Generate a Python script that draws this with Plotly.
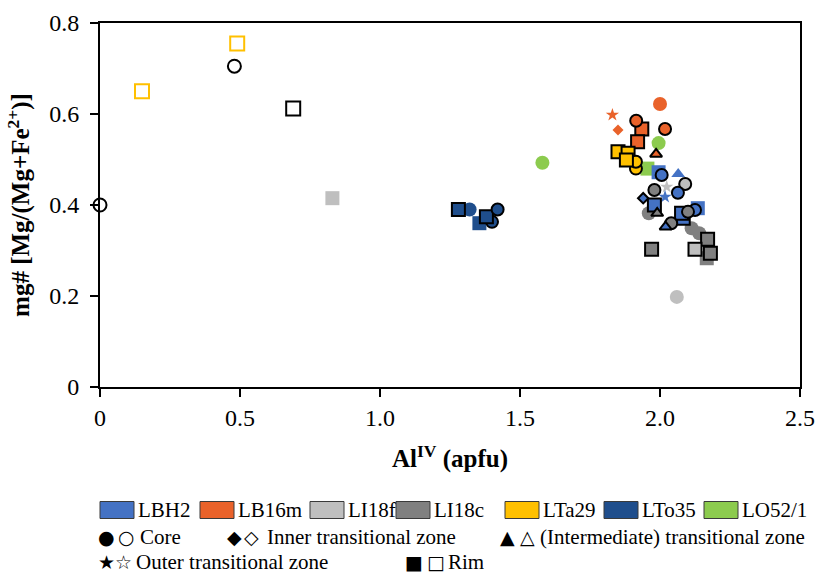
import plotly.graph_objects as go

# ---------------- data ----------------
SAMPLES = ["LBH2", "LB16m", "LI18f", "LI18c", "LTa29", "LTo35", "LO52/1"]
SAMPLE_COLORS = ["#4472C4", "#E9622A", "#BFBFBF", "#808080", "#FFC000", "#1F4E8C", "#8CCB4E"]
OTHER_COLOR = "#000000"   # open black symbols

ZONE_NAMES = ["Core", "Inner transitional zone", "(Intermediate) transitional zone",
              "Outer transitional zone", "Rim"]
ZONE_KEYS = ["core", "inner", "inter", "outer", "rim"]
ZONE_SYMBOLS = ["circle", "diamond", "triangle-up", "star", "square"]

# Al(IV) (apfu)
AL_IV = [0.00, 0.15, 0.49, 0.48, 0.69, 0.83, 1.58,
         1.32, 1.355, 1.28, 1.40, 1.38, 1.42,
         2.00, 1.83, 1.85, 1.995, 1.955, 2.065, 1.995, 2.024, 2.018, 2.135,
         1.96, 2.113, 2.14, 2.167, 2.06,
         1.935, 1.915, 2.018, 1.92, 1.85, 1.886, 1.986, 1.914, 1.914, 1.88,
         2.006, 2.09, 1.98, 2.064, 1.94, 1.98, 1.99, 2.083, 2.125, 2.077, 2.10,
         2.04, 2.02, 2.17, 1.97, 2.125, 2.18]
# mg# [Mg/(Mg+Fe2+)]
MG_NUM = [0.40, 0.65, 0.755, 0.705, 0.612, 0.415, 0.493,
          0.39, 0.36, 0.39, 0.363, 0.374, 0.39,
          0.622, 0.598, 0.565, 0.536, 0.48, 0.468, 0.472, 0.44, 0.418, 0.393,
          0.382, 0.349, 0.338, 0.283, 0.198,
          0.567, 0.585, 0.567, 0.539, 0.517, 0.514, 0.512, 0.48, 0.495, 0.499,
          0.466, 0.446, 0.433, 0.427, 0.415, 0.40, 0.382, 0.371, 0.389, 0.382, 0.385,
          0.36, 0.352, 0.325, 0.303, 0.303, 0.294]
SAMPLE = ["other", "LTa29", "LTa29", "other", "other", "LI18f", "LO52/1",
          "LTo35", "LTo35", "LTo35", "LTo35", "LTo35", "LTo35",
          "LB16m", "LB16m", "LB16m", "LO52/1", "LO52/1", "LBH2", "LBH2", "LI18f", "LBH2", "LBH2",
          "LI18c", "LI18c", "LI18c", "LI18c", "LI18f",
          "LB16m", "LB16m", "LB16m", "LB16m", "LTa29", "LTa29", "LB16m", "LTa29", "LTa29", "LTa29",
          "LBH2", "LI18f", "LI18c", "LBH2", "LBH2", "LBH2", "LI18c", "LBH2", "LBH2", "LBH2", "LI18c",
          "LI18c", "LBH2", "LI18c", "LI18c", "LI18f", "LI18c"]
ZONE = ["core", "rim", "rim", "core", "rim", "rim", "core",
        "core", "rim", "rim", "core", "rim", "core",
        "core", "outer", "inner", "core", "rim", "inter", "rim", "outer", "outer", "rim",
        "core", "core", "core", "rim", "core",
        "rim", "core", "core", "rim", "rim", "rim", "inter", "core", "core", "rim",
        "core", "core", "core", "core", "inner", "rim", "inter", "rim", "core", "rim", "core",
        "core", "inter", "rim", "rim", "rim", "rim"]
# e = filled with black outline, p = filled without outline, o = open symbol
STYLE = ["o", "o", "o", "o", "o", "p", "p",
         "p", "p", "e", "e", "e", "e",
         "p", "p", "p", "p", "p", "p", "p", "p", "p", "p",
         "p", "p", "p", "p", "p",
         "e", "e", "e", "e", "e", "e", "e", "e", "e", "e",
         "e", "e", "e", "e", "e", "e", "e", "e", "e", "e", "e",
         "e", "e", "e", "e", "e", "e"]

# ---------------- styling ----------------
FONT = "Times New Roman, Liberation Serif, Tinos, DejaVu Serif, serif"
color_of = dict(zip(SAMPLES, SAMPLE_COLORS))
color_of["other"] = OTHER_COLOR
symbol_of = dict(zip(ZONE_KEYS, ZONE_SYMBOLS))
PLAIN_SIZE = {"circle": 14, "square": 14, "diamond": 8.5, "triangle-up": 12, "star": 10}
EDGE_SIZE = {"circle": 12, "square": 13, "diamond": 8, "triangle-up": 10.5, "star": 9}

fill, line_col, line_w, sizes, symbols = [], [], [], [], []
for s, z, st in zip(SAMPLE, ZONE, STYLE):
    sym = symbol_of[z]
    c = color_of[s]
    symbols.append(sym)
    if st == "p":
        fill.append(c); line_col.append(c); line_w.append(0); sizes.append(PLAIN_SIZE[sym])
    elif st == "e":
        fill.append(c); line_col.append("#000000"); line_w.append(2); sizes.append(EDGE_SIZE[sym])
    else:
        fill.append("#FFFFFF"); line_col.append(c); line_w.append(2); sizes.append(EDGE_SIZE[sym] + 1)

fig = go.Figure()
fig.add_trace(go.Scatter(
    x=AL_IV, y=MG_NUM, mode="markers", cliponaxis=False, showlegend=False,
    marker=dict(symbol=symbols, size=sizes, color=fill, opacity=1,
                line=dict(color=line_col, width=line_w)),
))

X_TICKS = [0, 0.5, 1.0, 1.5, 2.0, 2.5]
X_TICKTEXT = ["0", "0.5", "1.0", "1.5", "2.0", "2.5"]
Y_TICKS = [0, 0.2, 0.4, 0.6, 0.8]
Y_TICKTEXT = ["0", "0.2", "0.4", "0.6", "0.8"]

L, R, T, B = 100, 21, 23, 187
W, H = 821, 574
PW, PH = W - L - R, H - T - B
TICK_SIZE = 24
TITLE_SIZE = 25

fig.update_layout(
    width=W, height=H, margin=dict(l=L, r=R, t=T, b=B, autoexpand=False),
    paper_bgcolor="white", plot_bgcolor="white",
    font=dict(family=FONT, color="#000000", size=21),
    xaxis=dict(range=[0, 2.5], tickvals=X_TICKS, ticktext=X_TICKTEXT,
               tickfont=dict(family=FONT, size=TICK_SIZE),
               showline=True, linecolor="#000000", linewidth=2, mirror=True,
               ticks="outside", ticklen=8, tickwidth=2, tickcolor="#000000",
               showgrid=False, zeroline=False, automargin=False,
               title=dict(text="<b>Al<sup>IV</sup> (apfu)</b>",
                          font=dict(size=TITLE_SIZE, family=FONT), standoff=20)),
    yaxis=dict(range=[0, 0.8], tickvals=Y_TICKS, ticktext=Y_TICKTEXT,
               tickfont=dict(family=FONT, size=TICK_SIZE), ticklabelstandoff=6,
               showline=True, linecolor="#000000", linewidth=2, mirror=True,
               ticks="outside", ticklen=8, tickwidth=2, tickcolor="#000000",
               showgrid=False, zeroline=False, automargin=False,
               title=dict(text="<b>mg# [Mg/(Mg+Fe<sup>2+</sup>)]</b>",
                          font=dict(size=TITLE_SIZE, family=FONT), standoff=12)),
)

# ---------------- custom legend ----------------
def fx(px):
    return (px - L) / PW

def fy(py):
    return (H - B - py) / PH

LEG_SIZE = 21
SWATCH_X = [100, 200, 310, 396, 505, 604, 704]
row1 = 510
for sx, name, col in zip(SWATCH_X, SAMPLES, SAMPLE_COLORS):
    fig.add_shape(type="rect", xref="paper", yref="paper",
                  x0=fx(sx), x1=fx(sx + 34), y0=fy(row1 + 8.5), y1=fy(row1 - 8.5),
                  fillcolor=col, line=dict(color="#3A3A3A", width=1))
    fig.add_annotation(xref="paper", yref="paper", x=fx(sx + 36), y=fy(row1),
                       xanchor="left", yanchor="middle", showarrow=False,
                       text=name, font=dict(size=LEG_SIZE, family=FONT))

GLYPHS = {"circle": ("●", "○"), "diamond": ("◆", "◇"), "triangle-up": ("▲", "△"),
          "star": ("★", "☆"), "square": ("■", "□")}
# (filled-glyph centre x, open-glyph centre x, text left x, row y, zone index)
LEG_ITEMS = [(106.5, 126, 138, 537, 0), (234, 251, 265, 537, 1), (507.5, 527.5, 538, 537, 2),
             (106, 123, 134, 562, 3), (414, 436, 446, 562, 4)]
for gx1, gx2, tx, gy, zi in LEG_ITEMS:
    filled, hollow = GLYPHS[ZONE_SYMBOLS[zi]]
    for gx, g in ((gx1, filled), (gx2, hollow)):
        fig.add_annotation(xref="paper", yref="paper", x=fx(gx), y=fy(gy),
                           xanchor="center", yanchor="middle", showarrow=False,
                           text=g, font=dict(size=19, family="DejaVu Sans"))
    fig.add_annotation(xref="paper", yref="paper", x=fx(tx), y=fy(gy),
                       xanchor="left", yanchor="middle", showarrow=False,
                       text=ZONE_NAMES[zi], font=dict(size=LEG_SIZE, family=FONT))

fig.write_html("out.html", config={"displayModeBar": False},
               post_script="document.body.style.margin='0';")
